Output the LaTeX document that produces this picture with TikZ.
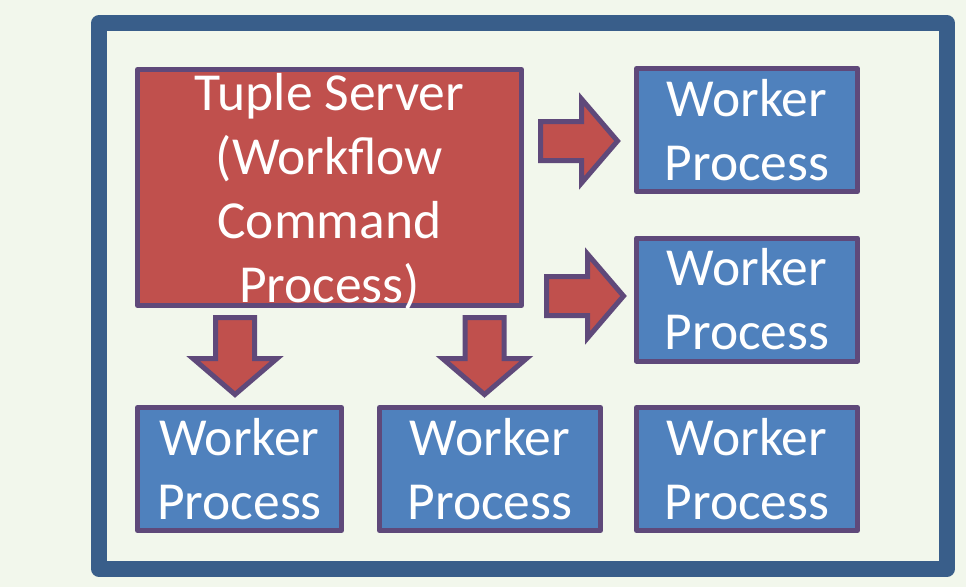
\documentclass[tikz,border=0pt]{standalone}
\usepackage{fontspec}
\setmainfont{Carlito}
\definecolor{bgc}{HTML}{F2F7EC}
\definecolor{framec}{HTML}{395E8A}
\definecolor{redc}{HTML}{C0504D}
\definecolor{bluec}{HTML}{4F81BD}
\definecolor{edgec}{HTML}{5F497A}
\tikzset{
  boxbase/.style={draw=edgec, line width=5pt, line join=round, inner sep=0pt,
    text=white, align=center, font=\fontsize{53.5}{64}\selectfont},
  workerbox/.style={boxbase, fill=bluec, minimum height=123pt},
  serverbox/.style={boxbase, fill=redc},
  boxtext/.style={text=white, align=center, inner sep=0pt, font=\fontsize{53.5}{64}\selectfont},
  arrowshape/.style={draw=edgec, fill=redc, line width=5pt, line join=miter},
  blockarrow/.pic={\draw[arrowshape] (0,-19.5) -- (41,-19.5) -- (41,-42) -- (77,0)
      -- (41,42) -- (41,19.5) -- (0,19.5) -- cycle;}
}
\begin{document}
\begin{tikzpicture}[x=1pt, y=-1pt]
  \useasboundingbox (0,0) rectangle (966,587);
  \fill[bgc] (0,0) rectangle (966,587);
  % outer frame
  \draw[framec, fill=bgc, line width=15.5pt, line join=round] (99,23) rectangle (947,569);

  % tuple server
  \node[serverbox, minimum width=384pt, minimum height=236pt] (server) at (329.5,187.5) {};
  \node[boxtext] (servertext) at ([yshift=-4pt]server.center)
    {Tuple Server\\(Workflow\\Command\\Process)};

  % worker processes
  \node[workerbox, minimum width=221pt] (w1) at (747,130) {Worker\\Process};
  \node[workerbox, minimum width=221pt] (w2) at (747,299.5) {Worker\\Process};
  \node[workerbox, minimum width=204pt] (w3) at (239.5,469) {Worker\\Process};
  \node[workerbox, minimum width=221pt] (w4) at (490,469) {Worker\\Process};
  \node[workerbox, minimum width=221pt] (w5) at (747,469) {Worker\\Process};

  % block arrows from the server
  \pic at (540.5,141) {blockarrow};
  \pic at (546.5,296) {blockarrow};
  \pic[rotate=-90] at (235,317.5) {blockarrow};
  \pic[rotate=-90] at (484.5,317.5) {blockarrow};
\end{tikzpicture}
\end{document}
